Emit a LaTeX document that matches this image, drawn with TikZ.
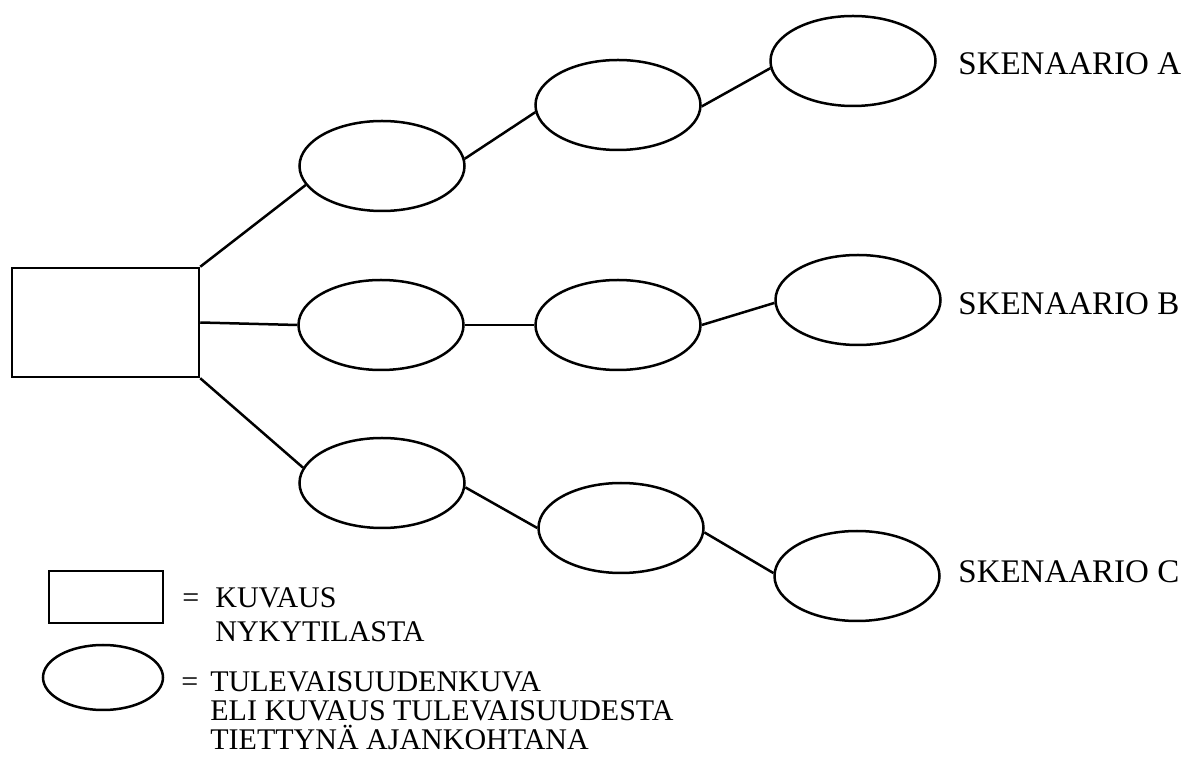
\documentclass[tikz,border=0pt]{standalone}
\usepackage{fontspec}
\setmainfont{Liberation Serif}
\usetikzlibrary{shapes.geometric}

\begin{document}
\begin{tikzpicture}[x=0.5pt,y=-0.5pt,
		kuva/.style={draw,ellipse,line width=1.25pt,minimum width=82.5pt,minimum height=45pt,inner sep=0pt},
		nyky/.style={draw,rectangle,line width=1.25pt,minimum width=93.5pt,minimum height=54.5pt,inner sep=0pt},
		yhteys/.style={line width=1.25pt},
		nimi/.style={anchor=base west,inner sep=0pt,font=\fontsize{16.5}{20}\selectfont},
		selite/.style={anchor=base west,inner sep=0pt,align=left}]
		\useasboundingbox (0,0) rectangle (1184,758);
		
		% nykytila ja tulevaisuudenkuvat
		\node[nyky] (nyky) at (105.5,322.5) {};
		\node[kuva] (k1) at (382,166) {};
		\node[kuva] (k2) at (618,105) {};
		\node[kuva] (k3) at (853,61) {};
		\node[kuva] (k4) at (381,325) {};
		\node[kuva] (k5) at (618,325) {};
		\node[kuva] (k6) at (858,300) {};
		\node[kuva] (k7) at (382,483) {};
		\node[kuva] (k8) at (621,528) {};
		\node[kuva] (k9) at (857,576) {};
		
		\draw[yhteys] (nyky.north east) -- (k1.194);
		\draw[yhteys] (k1.5) -- (k2.185);
		\draw[yhteys] (k2.359) -- (k3.185);
		\draw[yhteys] (nyky.east) -- (k4.west);
		\draw[yhteys] (k4.east) -- (k5.west);
		\draw[yhteys] (k5.east) -- (k6.182);
		\draw[yhteys] (nyky.south east) -- (k7.169);
		\draw[yhteys] (k7.357) -- (k8.west);
		\draw[yhteys] (k8.357) -- (k9.178);
		
		\node[nimi] (skenA) at (958,75) {SKENAARIO A};
		\node[nimi] (skenB) at (958,315) {SKENAARIO B};
		\node[nimi] (skenC) at (958,583) {SKENAARIO C};
		
		% selitteet (base = viimeinen rivi)
		\node[nyky,minimum width=57pt,minimum height=26pt] (selnyky) at (106,597) {};
		\node[kuva,minimum width=60pt,minimum height=32.5pt] (selkuva) at (103,677.5) {};
		\node[selite,font=\fontsize{15}{15}\selectfont] (eq1) at (182,608) {=};
		\node[selite,font=\fontsize{15}{17}\selectfont] (txt1) at (215,642) {KUVAUS\\NYKYTILASTA};
		\node[selite,font=\fontsize{15}{15}\selectfont] (eq2) at (181,692) {=};
		\node[selite,font=\fontsize{15}{14.5}\selectfont] (txt2) at (210,750) {TULEVAISUUDENKUVA\\ELI KUVAUS TULEVAISUUDESTA\\TIETTYNÄ AJANKOHTANA};
		
\end{tikzpicture}
\end{document}
